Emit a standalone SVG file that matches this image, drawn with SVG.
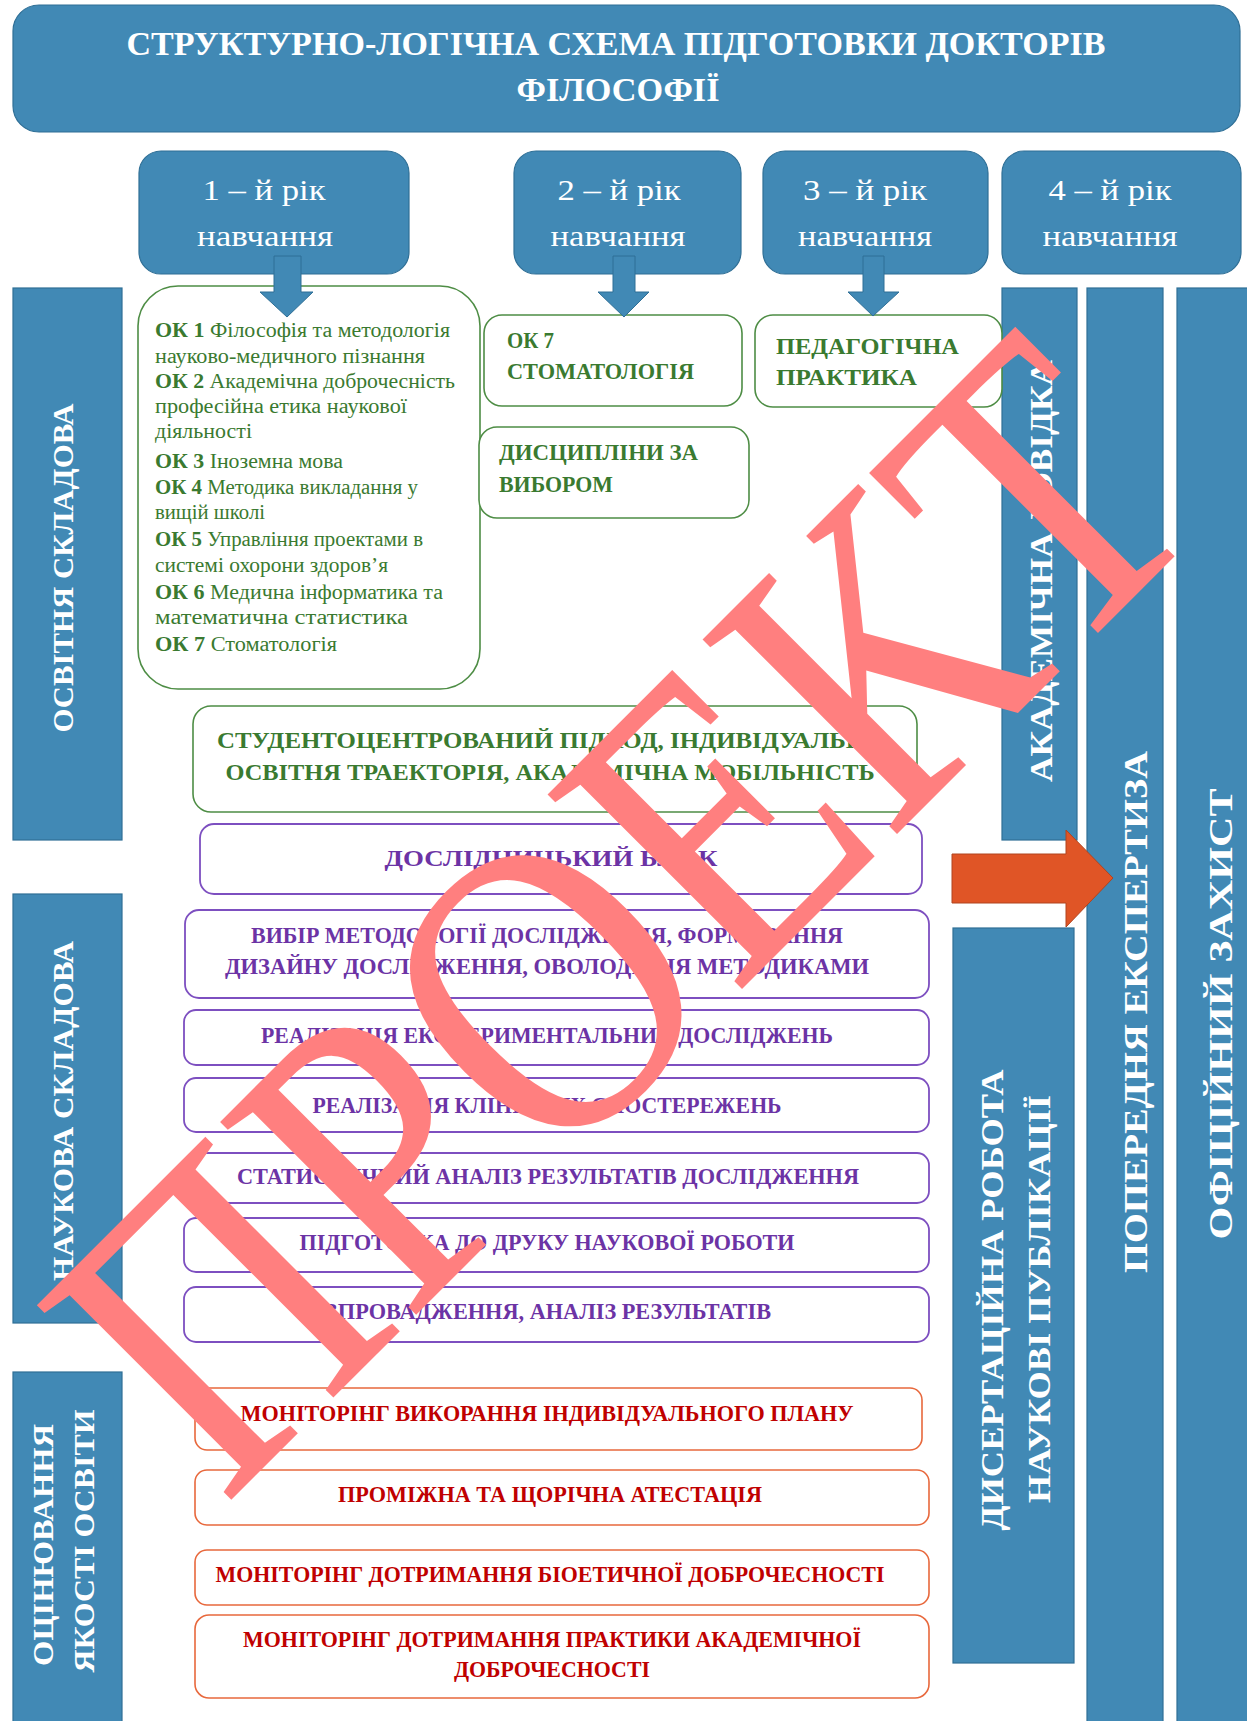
<svg xmlns="http://www.w3.org/2000/svg" width="1247" height="1721" viewBox="0 0 1247 1721">
<style>
text{font-family:"Liberation Serif","Times New Roman",serif}
.blue{fill:#4189b5;stroke:#2f6f96;stroke-width:1.2}
.wt{fill:#ffffff}
.b{font-weight:bold}
.m{text-anchor:middle}
.gbox{fill:#ffffff;stroke:#4e8d45;stroke-width:1.6}
.gt{fill:#3a7a30;font-size:20px}
.gh{fill:#3a7a30;font-weight:bold;font-size:23px}
.pbox{fill:#ffffff;stroke:#7d4fc0;stroke-width:1.8}
.pt{fill:#6c33a5;font-weight:bold;font-size:24px}
.rbox{fill:#ffffff;stroke:#e8683c;stroke-width:1.6}
.rt{fill:#c00000;font-weight:bold;font-size:24px}
.arrB{fill:#4189b5;stroke:#2f6f96;stroke-width:1}
.arrR{fill:#e05526;stroke:#b0441f;stroke-width:1}
.wm{fill:#ff7f7f;font-size:420px}
</style>
<rect x="0" y="0" width="1247" height="1721" fill="#ffffff"/>

<g id="title">
<rect class="blue" x="13" y="5" width="1227" height="127" rx="26"/>
<text class="wt b m" x="616" y="55" font-size="34" textLength="979" lengthAdjust="spacingAndGlyphs">СТРУКТУРНО-ЛОГІЧНА СХЕМА ПІДГОТОВКИ ДОКТОРІВ</text>
<text class="wt b m" x="618" y="101" font-size="34" textLength="203" lengthAdjust="spacingAndGlyphs">ФІЛОСОФІЇ</text>
</g>

<g id="year1">
<rect class="blue" x="139" y="151" width="270" height="123" rx="22"/>
<text class="wt m" x="264" y="200" font-size="30" textLength="123" lengthAdjust="spacingAndGlyphs">1 – й рік</text>
<text class="wt m" x="265" y="246" font-size="30" textLength="136" lengthAdjust="spacingAndGlyphs">навчання</text>
</g>
<g id="year2">
<rect class="blue" x="514" y="151" width="227" height="123" rx="22"/>
<text class="wt m" x="619" y="200" font-size="30" textLength="123" lengthAdjust="spacingAndGlyphs">2 – й рік</text>
<text class="wt m" x="618" y="246" font-size="30" textLength="135" lengthAdjust="spacingAndGlyphs">навчання</text>
</g>
<g id="year3">
<rect class="blue" x="763" y="151" width="225" height="123" rx="22"/>
<text class="wt m" x="865" y="200" font-size="30" textLength="124" lengthAdjust="spacingAndGlyphs">3 – й рік</text>
<text class="wt m" x="865" y="246" font-size="30" textLength="134" lengthAdjust="spacingAndGlyphs">навчання</text>
</g>
<g id="year4">
<rect class="blue" x="1002" y="151" width="239" height="123" rx="22"/>
<text class="wt m" x="1110" y="200" font-size="30" textLength="123" lengthAdjust="spacingAndGlyphs">4 – й рік</text>
<text class="wt m" x="1110" y="246" font-size="30" textLength="135" lengthAdjust="spacingAndGlyphs">навчання</text>
</g>

<g id="osvitnia">
<rect class="blue" x="13" y="288" width="109" height="552"/>
<text class="wt b m" font-size="29" transform="translate(73,568) rotate(-90)" textLength="329" lengthAdjust="spacingAndGlyphs">ОСВІТНЯ СКЛАДОВА</text>
</g>
<g id="naukova">
<rect class="blue" x="13" y="894" width="109" height="429"/>
<text class="wt b m" font-size="29" transform="translate(73,1111) rotate(-90)" textLength="340" lengthAdjust="spacingAndGlyphs">НАУКОВА СКЛАДОВА</text>
</g>
<g id="otsiniuvannia">
<rect class="blue" x="13" y="1372" width="109" height="360"/>
<text class="wt b m" font-size="29" transform="translate(53,1545) rotate(-90)" textLength="242" lengthAdjust="spacingAndGlyphs">ОЦІНЮВАННЯ</text>
<text class="wt b m" font-size="29" transform="translate(94,1541) rotate(-90)" textLength="263" lengthAdjust="spacingAndGlyphs">ЯКОСТІ ОСВІТИ</text>
</g>

<g id="akademichna">
<rect class="blue" x="1002" y="288" width="75" height="552"/>
<text class="wt b m" font-size="32" transform="translate(1052,571) rotate(-90)" textLength="422" lengthAdjust="spacingAndGlyphs">АКАДЕМІЧНА ДОВІДКА</text>
</g>
<g id="poperednia">
<rect class="blue" x="1087" y="288" width="76" height="1445"/>
<text class="wt b m" font-size="34" transform="translate(1147,1012) rotate(-90)" textLength="522" lengthAdjust="spacingAndGlyphs">ПОПЕРЕДНЯ ЕКСПЕРТИЗА</text>
</g>
<g id="ofitsiinyi">
<rect class="blue" x="1177" y="288" width="75" height="1445"/>
<text class="wt b m" font-size="34" transform="translate(1232,1014) rotate(-90)" textLength="451" lengthAdjust="spacingAndGlyphs">ОФІЦІЙНИЙ ЗАХИСТ</text>
</g>
<g id="dysertatsiina">
<rect class="blue" x="953" y="928" width="121" height="735"/>
<text class="wt b m" font-size="32" transform="translate(1003,1300) rotate(-90)" textLength="461" lengthAdjust="spacingAndGlyphs">ДИСЕРТАЦІЙНА РОБОТА</text>
<text class="wt b m" font-size="32" transform="translate(1050,1299) rotate(-90)" textLength="408" lengthAdjust="spacingAndGlyphs">НАУКОВІ ПУБЛІКАЦІЇ</text>
</g>

<g id="ok-list">
<rect class="gbox" x="138" y="286" width="342" height="403" rx="40"/>
<text class="gt" x="155" y="337" textLength="295" lengthAdjust="spacingAndGlyphs"><tspan font-weight="bold">ОК 1</tspan> Філософія та методологія</text>
<text class="gt" x="155" y="363" textLength="270" lengthAdjust="spacingAndGlyphs">науково-медичного пізнання</text>
<text class="gt" x="155" y="388" textLength="300" lengthAdjust="spacingAndGlyphs"><tspan font-weight="bold">ОК 2</tspan> Академічна доброчесність</text>
<text class="gt" x="155" y="413" textLength="252" lengthAdjust="spacingAndGlyphs">професійна етика наукової</text>
<text class="gt" x="155" y="438" textLength="97" lengthAdjust="spacingAndGlyphs">діяльності</text>
<text class="gt" x="155" y="468" textLength="188" lengthAdjust="spacingAndGlyphs"><tspan font-weight="bold">ОК 3</tspan> Іноземна мова</text>
<text class="gt" x="155" y="494" textLength="263" lengthAdjust="spacingAndGlyphs"><tspan font-weight="bold">ОК 4</tspan> Методика викладання у</text>
<text class="gt" x="155" y="519" textLength="110" lengthAdjust="spacingAndGlyphs">вищій школі</text>
<text class="gt" x="155" y="546" textLength="268" lengthAdjust="spacingAndGlyphs"><tspan font-weight="bold">ОК 5</tspan> Управління проектами в</text>
<text class="gt" x="155" y="572" textLength="233" lengthAdjust="spacingAndGlyphs">системі охорони здоров’я</text>
<text class="gt" x="155" y="599" textLength="288" lengthAdjust="spacingAndGlyphs"><tspan font-weight="bold">ОК 6</tspan> Медична інформатика та</text>
<text class="gt" x="155" y="624" textLength="253" lengthAdjust="spacingAndGlyphs">математична статистика</text>
<text class="gt" x="155" y="651" textLength="182" lengthAdjust="spacingAndGlyphs"><tspan font-weight="bold">ОК 7</tspan> Стоматологія</text>
</g>

<g id="ok7">
<rect class="gbox" x="484" y="315" width="258" height="91" rx="18"/>
<text class="gh" x="507" y="348" textLength="47" lengthAdjust="spacingAndGlyphs">ОК 7</text>
<text class="gh" x="507" y="379" textLength="187" lengthAdjust="spacingAndGlyphs">СТОМАТОЛОГІЯ</text>
</g>
<g id="dystsypliny">
<rect class="gbox" x="479" y="427" width="270" height="91" rx="18"/>
<text class="gh" x="499" y="460" textLength="199" lengthAdjust="spacingAndGlyphs">ДИСЦИПЛІНИ ЗА</text>
<text class="gh" x="499" y="492" textLength="114" lengthAdjust="spacingAndGlyphs">ВИБОРОМ</text>
</g>
<g id="pedahohichna">
<rect class="gbox" x="755" y="315" width="247" height="92" rx="18"/>
<text class="gh" x="776" y="354" textLength="183" lengthAdjust="spacingAndGlyphs">ПЕДАГОГІЧНА</text>
<text class="gh" x="776" y="385" textLength="141" lengthAdjust="spacingAndGlyphs">ПРАКТИКА</text>
</g>
<g id="studentotsentrovanyi">
<rect class="gbox" x="193" y="706" width="724" height="106" rx="18"/>
<text class="gh m" x="550" y="748" font-size="25" textLength="666" lengthAdjust="spacingAndGlyphs">СТУДЕНТОЦЕНТРОВАНИЙ ПІДХОД, ІНДИВІДУАЛЬНА</text>
<text class="gh m" x="550" y="780" font-size="25" textLength="649" lengthAdjust="spacingAndGlyphs">ОСВІТНЯ ТРАЕКТОРІЯ, АКАДЕМІЧНА МОБІЛЬНІСТЬ</text>
</g>

<g id="doslidnytskyi">
<rect class="pbox" x="200" y="824" width="722" height="70" rx="14"/>
<text class="pt m" x="551" y="866" font-size="29" textLength="333" lengthAdjust="spacingAndGlyphs">ДОСЛІДНИЦЬКИЙ БЛОК</text>
</g>
<g id="vybir">
<rect class="pbox" x="185" y="910" width="744" height="88" rx="14"/>
<text class="pt m" x="547" y="943" font-size="23" textLength="592" lengthAdjust="spacingAndGlyphs">ВИБІР МЕТОДОЛОГІЇ ДОСЛІДЖЕННЯ, ФОРМУВАННЯ</text>
<text class="pt m" x="547" y="974" font-size="23" textLength="644" lengthAdjust="spacingAndGlyphs">ДИЗАЙНУ ДОСЛІДЖЕННЯ, ОВОЛОДІННЯ МЕТОДИКАМИ</text>
</g>
<g id="eksperymentalni">
<rect class="pbox" x="184" y="1010" width="745" height="55" rx="12"/>
<text class="pt m" x="547" y="1043" textLength="572" lengthAdjust="spacingAndGlyphs">РЕАЛІЗАЦІЯ ЕКСПЕРИМЕНТАЛЬНИХ ДОСЛІДЖЕНЬ</text>
</g>
<g id="klinichni">
<rect class="pbox" x="184" y="1078" width="745" height="54" rx="12"/>
<text class="pt m" x="547" y="1113" textLength="469" lengthAdjust="spacingAndGlyphs">РЕАЛІЗАЦІЯ КЛІНІЧНИХ СПОСТЕРЕЖЕНЬ</text>
</g>
<g id="statystychnyi">
<rect class="pbox" x="184" y="1153" width="745" height="50" rx="12"/>
<text class="pt m" x="548" y="1184" textLength="622" lengthAdjust="spacingAndGlyphs">СТАТИСТИЧНИЙ АНАЛІЗ РЕЗУЛЬТАТІВ ДОСЛІДЖЕННЯ</text>
</g>
<g id="pidhotovka">
<rect class="pbox" x="184" y="1218" width="745" height="54" rx="12"/>
<text class="pt m" x="547" y="1250" textLength="495" lengthAdjust="spacingAndGlyphs">ПІДГОТОВКА ДО ДРУКУ НАУКОВОЇ РОБОТИ</text>
</g>
<g id="vprovadzhennia">
<rect class="pbox" x="184" y="1287" width="745" height="55" rx="12"/>
<text class="pt m" x="547" y="1319" textLength="448" lengthAdjust="spacingAndGlyphs">ВПРОВАДЖЕННЯ, АНАЛІЗ РЕЗУЛЬТАТІВ</text>
</g>

<g id="monitorynh-planu">
<rect class="rbox" x="195" y="1388" width="727" height="62" rx="12"/>
<text class="rt m" x="547" y="1421" textLength="613" lengthAdjust="spacingAndGlyphs">МОНІТОРІНГ ВИКОРАННЯ ІНДИВІДУАЛЬНОГО ПЛАНУ</text>
</g>
<g id="atestatsiia">
<rect class="rbox" x="195" y="1470" width="734" height="55" rx="12"/>
<text class="rt m" x="550" y="1502" textLength="424" lengthAdjust="spacingAndGlyphs">ПРОМІЖНА ТА ЩОРІЧНА АТЕСТАЦІЯ</text>
</g>
<g id="bioetychna">
<rect class="rbox" x="195" y="1550" width="734" height="55" rx="12"/>
<text class="rt m" x="550" y="1582" textLength="669" lengthAdjust="spacingAndGlyphs">МОНІТОРІНГ ДОТРИМАННЯ БІОЕТИЧНОЇ ДОБРОЧЕСНОСТІ</text>
</g>
<g id="akademichna-dobrochesnist">
<rect class="rbox" x="195" y="1615" width="734" height="83" rx="14"/>
<text class="rt m" x="552" y="1647" textLength="618" lengthAdjust="spacingAndGlyphs">МОНІТОРІНГ ДОТРИМАННЯ ПРАКТИКИ АКАДЕМІЧНОЇ</text>
<text class="rt m" x="552" y="1677" textLength="196" lengthAdjust="spacingAndGlyphs">ДОБРОЧЕСНОСТІ</text>
</g>

<g id="connectors">
<polygon class="arrB" points="274,256 301,256 301,292 313,292 287,317 260,292 274,292"/>
<polygon class="arrB" points="613,256 635,256 635,292 649,292 624,317 598,292 613,292"/>
<polygon class="arrB" points="863,256 884,256 884,292 899,292 873,316 848,292 863,292"/>
<polygon class="arrR" points="952,854 1066,854 1066,830 1113,878 1066,927 1066,903 952,903"/>
</g>

<g id="watermark">
<text class="wm" transform="translate(224,1507) rotate(-45)" x="0" y="0" textLength="1400" lengthAdjust="spacingAndGlyphs">ПРОЕКТ</text>
</g>
</svg>
